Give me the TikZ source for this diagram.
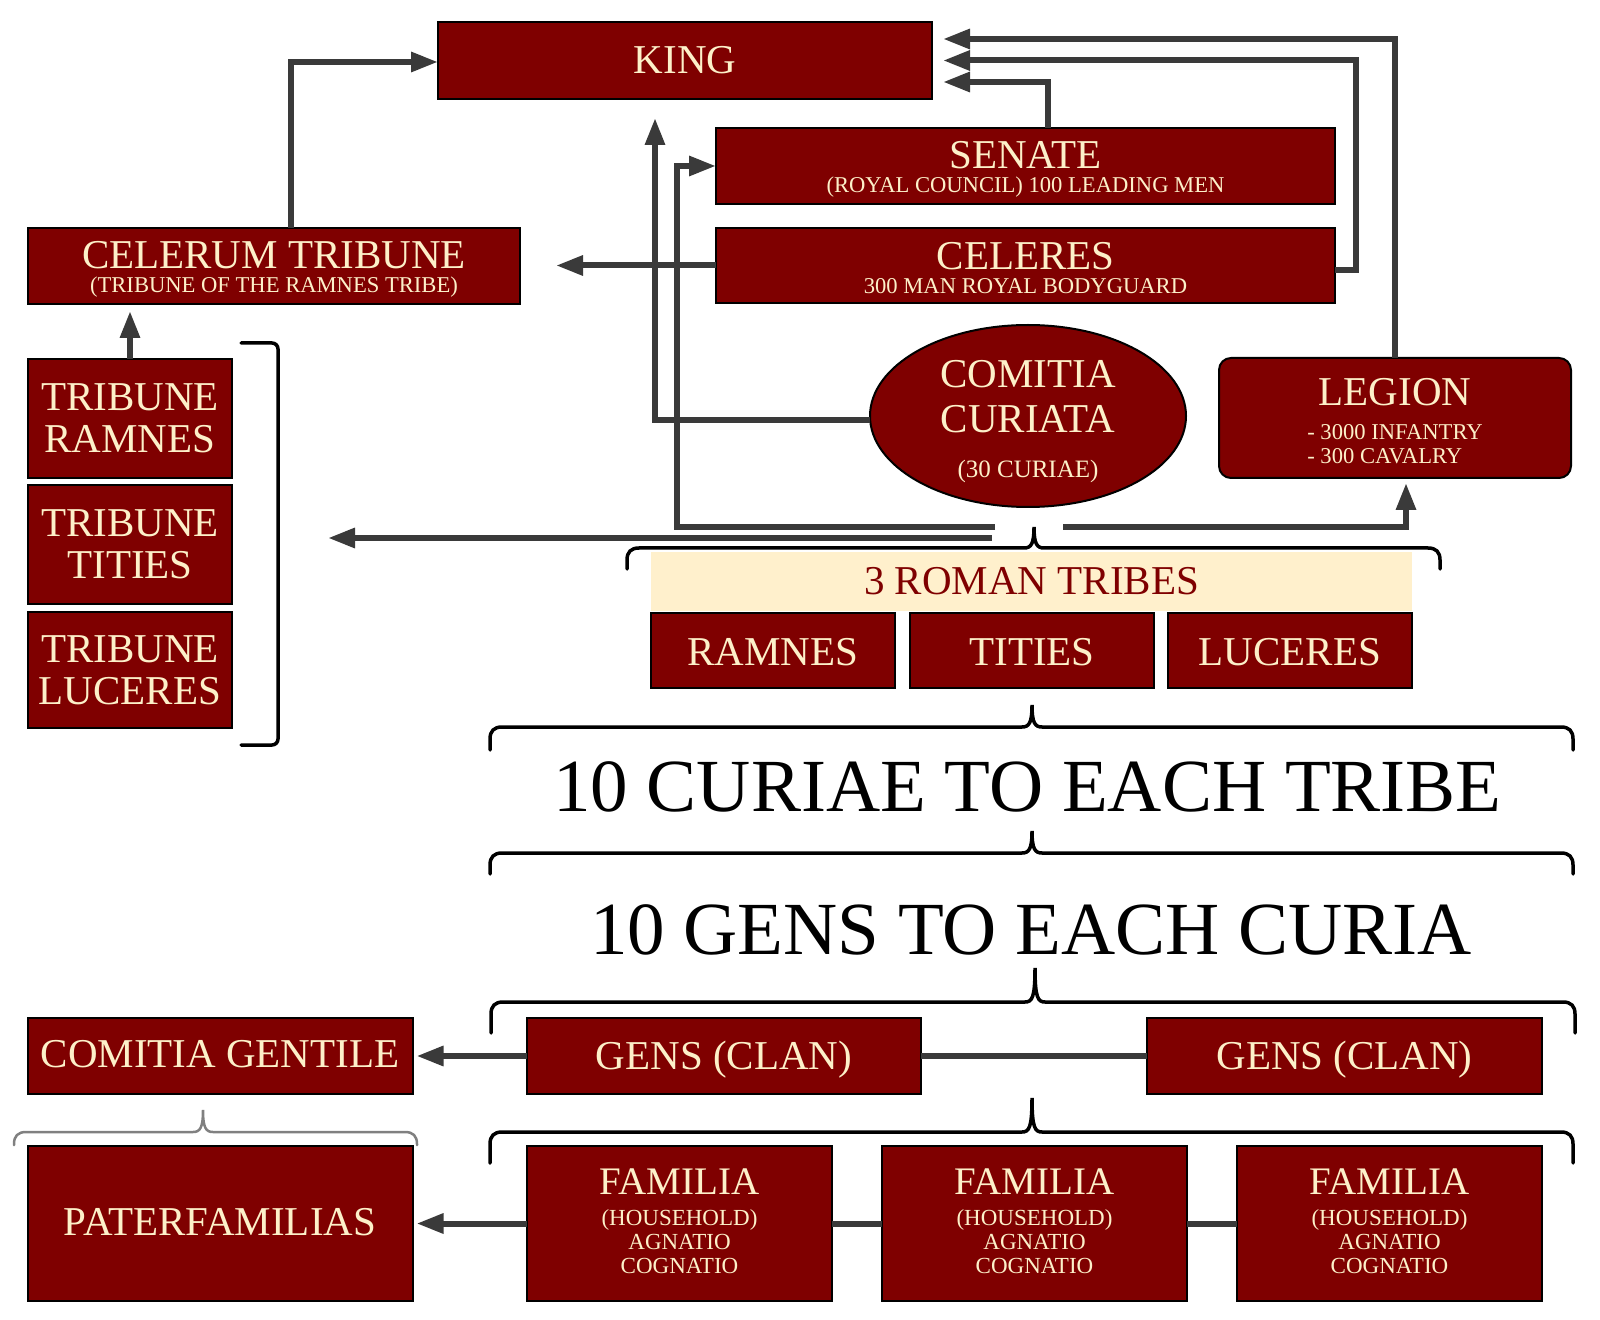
\documentclass[tikz,border=0pt]{standalone}
\usepackage{fontspec}
\setmainfont{Liberation Serif}
\usetikzlibrary{shapes.geometric,arrows.meta}
\definecolor{romred}{HTML}{7F0000}
\definecolor{creamtxt}{HTML}{FDF0C9}
\definecolor{bandcol}{HTML}{FFF0CC}
\definecolor{conncol}{HTML}{3A3A3A}
\definecolor{graybrace}{HTML}{808080}
\newcommand{\myT}[1]{\fontsize{20.5}{#1}\selectfont}
\newcommand{\myS}{\fontsize{11.3}{12}\selectfont}
\newcommand{\mystrut}[1]{\rule{0pt}{#1}}
\newcommand{\mybrace}[7]{%
 \draw[#1] (#2,#7) -- (#2,{#6+12}) .. controls (#2,{#6+4}) and ({#2+4},#6) .. ({#2+12},#6)
 -- ({#4-10},#6) .. controls ({#4-3},#6) and (#4,{#6-4}) .. (#4,#5)
 .. controls (#4,{#6-4}) and ({#4+3},#6) .. ({#4+10},#6)
 -- ({#3-12},#6) .. controls ({#3-4},#6) and (#3,{#6+4}) .. (#3,{#6+12}) -- (#3,#7);}
\tikzset{
 rbox/.style={draw=black, line width=1pt, fill=romred, text=creamtxt, inner sep=0pt, outer sep=0pt, align=center},
 conn/.style={draw=conncol, line width=3pt},
 arr/.style={conn, -{Triangle[length=13.5pt,width=9.5pt]}},
 brc/.style={draw=black, line width=1.75pt, line cap=round},
 gbrc/.style={draw=graybrace, line width=1.25pt, line cap=round},
 bigtxt/.style={font=\fontsize{37.5}{40}\selectfont, text=black, inner sep=0pt}
}
\begin{document}
\begin{tikzpicture}[x=0.5pt,y=-0.5pt]
\useasboundingbox[fill=white] (0,0) rectangle (1600,1320);

% top level
\node[rbox, minimum width=247pt, minimum height=38.5pt, font=\myT{12}] (king) at (685,60.5) {KING};
\node[rbox, minimum width=309.5pt, minimum height=38pt, font=\myT{12}] (senate) at (1025.5,166) {\mystrut{17.4pt}SENATE\\{\myS (ROYAL COUNCIL) 100 LEADING MEN}};
\node[rbox, minimum width=309.5pt, minimum height=37.5pt, font=\myT{12}] (celeres) at (1025.5,265.5) {\mystrut{15.8pt}CELERES\\{\myS 300 MAN ROYAL BODYGUARD}};
\node[rbox, minimum width=246pt, minimum height=38pt, font=\myT{12}] (celerum) at (274,266) {\mystrut{16.8pt}CELERUM TRIBUNE\\{\myS (TRIBUNE OF THE RAMNES TRIBE)}};

% tribunes
\node[rbox, minimum width=102pt, minimum height=59.5pt, font=\myT{21}] (trib1) at (130,418.5) {TRIBUNE\\RAMNES};
\node[rbox, minimum width=102pt, minimum height=59.5pt, font=\myT{21}] (trib2) at (130,544.5) {TRIBUNE\\TITIES};
\node[rbox, minimum width=102pt, minimum height=58pt, font=\myT{21}] (trib3) at (130,670) {TRIBUNE\\LUCERES};

% comitia curiata and legion
\node[rbox, ellipse, minimum width=158pt, minimum height=91pt, font=\myT{22.5}, text height=62pt, text depth=0pt] (comitia) at (1028,416) {COMITIA\\CURIATA\\{\fontsize{12.5}{22.5}\selectfont (30 CURIAE)}};
\node[rbox, rounded corners=6pt, minimum width=176pt, minimum height=60pt, font=\myT{12}] (legion) at (1395,418) {\mystrut{16.8pt}LEGION\\[4.75pt]{\myS - 3000 INFANTRY}\\{\myS\rlap{- 300 CAVALRY}\phantom{- 3000 INFANTRY}}};

% three tribes
\node[fill=bandcol, text=romred, inner sep=0pt, minimum width=380.5pt, minimum height=29.5pt, font=\myT{12}] (tribes) at (1031.5,581.5) {3 ROMAN TRIBES};
\node[rbox, minimum width=122pt, minimum height=37.5pt, font=\myT{12}, text height=15.6pt] (ramnes) at (773,650.5) {RAMNES};
\node[rbox, minimum width=122pt, minimum height=37.5pt, font=\myT{12}, text height=15.6pt] (tities) at (1032,650.5) {TITIES};
\node[rbox, minimum width=122pt, minimum height=37.5pt, font=\myT{12}, text height=15.6pt] (luceres) at (1290,650.5) {LUCERES};

% big texts
\node[bigtxt] (curiae) at (1027.5,787) {10 CURIAE TO EACH TRIBE};
\node[bigtxt] (gensper) at (1031,929.5) {10 GENS TO EACH CURIA};

% gens
\node[rbox, minimum width=197pt, minimum height=38pt, font=\myT{12}, text depth=1pt] (gens1) at (724,1056) {GENS (CLAN)};
\node[rbox, minimum width=197.5pt, minimum height=38pt, font=\myT{12}, text depth=1pt] (gens2) at (1344.5,1056) {GENS (CLAN)};
\node[rbox, minimum width=192.5pt, minimum height=38pt, font=\myT{12}, text depth=2pt] (cgent) at (220,1056) {COMITIA GENTILE};

% familia
\node[rbox, minimum width=192.5pt, minimum height=77.5pt, font=\myT{12}, text depth=2pt] (pater) at (220,1223.5) {PATERFAMILIAS};
\node[rbox, minimum width=152.5pt, minimum height=77.5pt, font=\fontsize{19.5}{12}\selectfont] (fam1) at (679.5,1223.5) {FAMILIA\\[3.5pt]{\fontsize{11.5}{12}\selectfont (HOUSEHOLD)}\\{\fontsize{11.5}{12}\selectfont AGNATIO}\\{\fontsize{11.5}{12}\selectfont COGNATIO\rule[-2pt]{0pt}{0pt}}};
\node[rbox, minimum width=152.5pt, minimum height=77.5pt, font=\fontsize{19.5}{12}\selectfont] (fam2) at (1034.5,1223.5) {FAMILIA\\[3.5pt]{\fontsize{11.5}{12}\selectfont (HOUSEHOLD)}\\{\fontsize{11.5}{12}\selectfont AGNATIO}\\{\fontsize{11.5}{12}\selectfont COGNATIO\rule[-2pt]{0pt}{0pt}}};
\node[rbox, minimum width=152.5pt, minimum height=77.5pt, font=\fontsize{19.5}{12}\selectfont] (fam3) at (1389.5,1223.5) {FAMILIA\\[3.5pt]{\fontsize{11.5}{12}\selectfont (HOUSEHOLD)}\\{\fontsize{11.5}{12}\selectfont AGNATIO}\\{\fontsize{11.5}{12}\selectfont COGNATIO\rule[-2pt]{0pt}{0pt}}};

% connector end points near the tribes brace
\coordinate (tbsenate) at (995,527);
\coordinate (tbtrib) at (992,538);
\coordinate (tblegion) at (1063,527);
\coordinate (tribtip) at (328,538);

% connectors to the king
\draw[arr, shorten >=5.5pt] (legion.north) |- ([yshift=10.75pt]king.east);
\draw[arr, shorten >=5.5pt] ([yshift=-2.25pt]celeres.east) -- ++(21,0) |- (king.east);
\draw[arr, shorten >=5.5pt] ([xshift=11.25pt]senate.north) |- ([yshift=-10.75pt]king.east);
\draw[arr] ([xshift=8.5pt]celerum.north) |- ([yshift=-0.75pt]king.west);
\draw[arr, shorten >=9.5pt] ([yshift=-2pt]comitia.west) -| ([xshift=-15pt]king.south);
\draw[arr, shorten >=18pt] (celeres.west) -- (celerum.east |- celeres.west);
\draw[arr, shorten >=3.5pt] (trib1.north) -- (trib1.north |- celerum.south);

% connectors from the tribes
\draw[arr] (tbsenate) -| ([xshift=-19.5pt]senate.west) -- (senate.west);
\draw[arr] (tbtrib) -- (tribtip);
\draw[arr, shorten >=2.5pt] (tblegion) -| ([xshift=5.5pt]legion.south);

% lower connectors
\draw[arr, shorten >=2pt] (gens1.west) -- (cgent.east);
\draw[conn] (gens1.east) -- (gens2.west);
\draw[arr, shorten >=2pt] (fam1.west) -- (pater.east);
\draw[conn] (fam1.east) -- (fam2.west);
\draw[conn] (fam2.east) -- (fam3.west);

% bracket right of the tribunes
\draw[brc, rounded corners=3pt] (241,343) -- (278,343) -- (278,745) -- (241,745);

% braces
\mybrace{brc}{627}{1440}{1034}{527}{548}{569}
\mybrace{brc}{490}{1573}{1032}{705}{727}{750}
\mybrace{brc}{490}{1573}{1032}{831}{853}{874}
\mybrace{brc}{491}{1575}{1035}{968}{1002}{1033}
\mybrace{brc}{490}{1573}{1032}{1098}{1132}{1163}
\mybrace{gbrc}{14}{417}{203}{1110}{1132}{1145}
\end{tikzpicture}
\end{document}
